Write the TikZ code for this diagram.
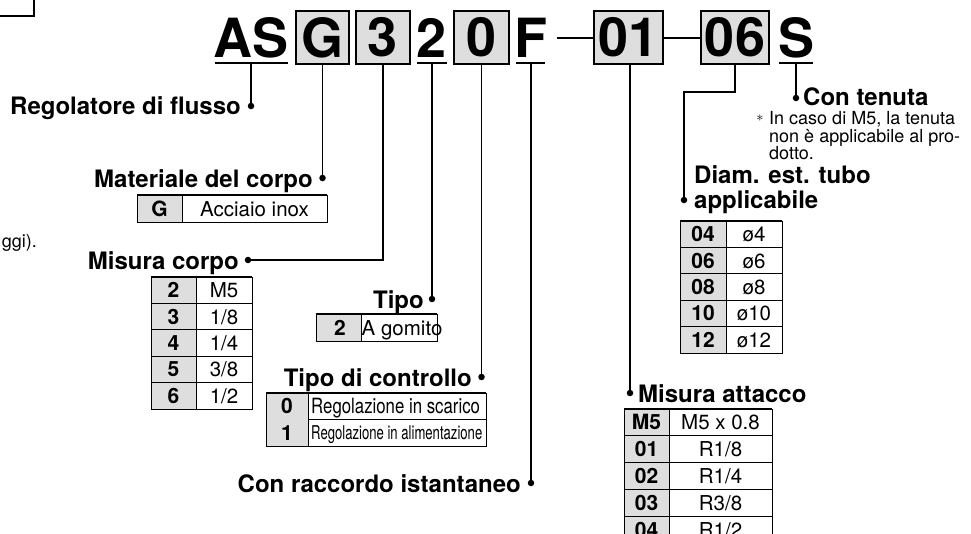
\documentclass[tikz,border=0pt]{standalone}
\usepackage{fontspec}
\setmainfont{TeX Gyre Heros}
\definecolor{codegray}{RGB}{222,222,222}
\tikzset{
  conn/.style={line width=1.6pt},
  dotmark/.style={fill, circle, inner sep=0pt, minimum size=6.5pt},
  lbl/.style={font=\bfseries\fontsize{24}{26}\selectfont, inner sep=0pt},
  big/.style={font=\bfseries\fontsize{54}{54}\selectfont, inner sep=0pt},
  cbox/.style={draw, fill=codegray, line width=1.5pt, minimum height=53pt, inner sep=0pt, font=\bfseries\fontsize{54}{54}\selectfont},
  tkey/.style={font=\bfseries\fontsize{21}{21}\selectfont, inner sep=0pt, anchor=base},
  tval/.style={font=\fontsize{20.5}{21}\selectfont, inner sep=0pt, anchor=base},
  note/.style={font=\fontsize{18}{18}\selectfont, inner sep=0pt, anchor=base west},
  tline/.style={line width=1pt},
  ttop/.style={line width=2pt},
  uline/.style={line width=1.6pt},
}
\begin{document}
\begin{tikzpicture}[x=1pt,y=-1pt]
\useasboundingbox (0,0) rectangle (971,533);
% partial frame top-left
\draw[line width=1.2pt] (-10,-10) rectangle (34,16);
\node[note, anchor=base east] (frag) at (37,247) {ggi).};

% ---- code ----
\node[big, anchor=base] (AS) at (251,57) {AS};
\node[cbox, minimum width=53pt] (G) at (322.5,37.5) {G};
\node[cbox, minimum width=54pt] (B3) at (383,37.5) {3};
\node[big, anchor=base] (T2) at (432,57) {2};
\node[cbox, minimum width=55pt] (C0) at (481.5,37.5) {0};
\node[big, anchor=base] (F) at (531,57) {F};
\node[cbox, minimum width=69pt] (P01) at (628.5,37.5) {01};
\node[cbox, minimum width=68pt] (D06) at (735,37.5) {06};
\node[big, anchor=base] (S) at (796,57) {S};

\draw[uline] (215,63) -- (288,63);
\draw[uline] (417,63) -- (447,63);
\draw[uline] (516,63) -- (545,63);
\draw[uline] (779,63) -- (813,63);
\coordinate (dashA) at (557,37.5);
\draw[line width=2pt] (dashA) -- (P01.west);
\draw[line width=2pt] (P01.east) -- (D06.west);

% ---- dots ----
\node[dotmark] (dAS) at (251,106) {};
\node[dotmark] (dG) at (322.5,178) {};
\node[dotmark] (dB3) at (248,260) {};
\node[dotmark] (dT2) at (432,299) {};
\node[dotmark] (dC0) at (481.5,377) {};
\node[dotmark] (dF) at (531,483) {};
\node[dotmark] (dP01) at (630,393) {};
\node[dotmark] (dD06) at (684,200) {};
\node[dotmark] (dS) at (796,98) {};

% ---- connectors ----
\draw[conn] (251,63) -- (dAS.center);
\draw[conn] (G.south) -- (dG.center);
\draw[conn] (B3.south) |- (dB3.center);
\draw[conn] (432,63) -- (dT2.center);
\draw[conn] (C0.south) -- (dC0.center);
\draw[conn] (531,63) -- (dF.center);
\draw[conn] (P01.south -| dP01) -- (dP01.center);
\draw[conn] (D06.south) -- (735,92) -| (dD06.center);
\draw[conn] (796,63) -- (dS.center);

% ---- labels ----
\node[lbl, anchor=base east] (lAS) at (241,114) {Regolatore di flusso};
\node[lbl, anchor=base east] (lG) at (313,187) {Materiale del corpo};
\node[lbl, anchor=base east] (lB3) at (239,269) {Misura corpo};
\node[lbl, anchor=base east] (lT2) at (424,308) {Tipo};
\node[lbl, anchor=base east] (lC0) at (472,386) {Tipo di controllo};
\node[lbl, anchor=base east] (lF) at (521,492) {Con raccordo istantaneo};
\node[lbl, anchor=base west] (lP01) at (638,402) {Misura attacco};
\node[lbl, anchor=base west] (lD06a) at (694,183) {Diam. est. tubo};
\node[lbl, anchor=base west] (lD06b) at (694,208) {applicabile};
\node[lbl, anchor=base west] (lS) at (803,105) {Con tenuta};

% note
\node[inner sep=0pt, font=\fontsize{14}{14}\selectfont] (ast) at (760,118) {$\ast$};
\node[note] (n1) at (769,124.5) {In caso di M5, la tenuta};
\node[note] (n2) at (769,142) {non è applicabile al pro-};
\node[note] (n3) at (769,159.5) {dotto.};

% ---- table: Materiale ----
\fill[codegray] (137,195) rectangle (182,222);
\draw[tline] (137,195) rectangle (327,222);
\draw[tline] (182,195) -- (182,222);
\draw[ttop] (137,195) -- (327,195);
\node[tkey] (mG) at (159.5,216) {G};
\node[tval] (mGv) at (254.5,216) {Acciaio inox};

% ---- table: Misura corpo ----
\fill[codegray] (151,277) rectangle (196,409);
\draw[tline] (151,277) rectangle (252,409);
\draw[tline] (196,277) -- (196,409);
\foreach \i in {1,...,4} \draw[tline] (151,{277+\i*26.4}) -- (252,{277+\i*26.4});
\draw[ttop] (151,277) -- (252,277);
\foreach \k/\v [count=\i from 0] in {2/M5,3/{1/8},4/{1/4},5/{3/8},6/{1/2}} {
  \node[tkey] (mc\i k) at (173.5,{277+(\i+0.5)*26.4+7.4}) {\k};
  \node[tval] (mc\i v) at (224,{277+(\i+0.5)*26.4+7.4}) {\v};
}

% ---- table: Tipo ----
\fill[codegray] (316,314) rectangle (361,341);
\draw[tline] (316,314) rectangle (437,341);
\draw[tline] (361,314) -- (361,341);
\draw[ttop] (316,314) -- (437,314);
\node[tkey, anchor=base east] (tk) at (346,335) {2};
\node[tval, anchor=base west] (tv) at (361.5,335) {A gomito};

% ---- table: Tipo di controllo ----
\fill[codegray] (266,393) rectangle (308,446);
\draw[tline] (266,393) rectangle (486,446);
\draw[tline] (308,393) -- (308,446);
\draw[tline] (308,419.5) -- (486,419.5);
\draw[ttop] (266,393) -- (486,393);
\node[tkey] (ck0) at (287,413.5) {0};
\node[tkey] (ck1) at (287,440) {1};
\node[tval, anchor=base west, font=\fontsize{21}{21}\selectfont] (cv0) at (311,413.5) {\scalebox{0.8}[1]{Regolazione in scarico}};
\node[tval, anchor=base west, font=\fontsize{19}{19}\selectfont] (cv1) at (311,439.5) {\scalebox{0.69}[1]{Regolazione in alimentazione}};

% ---- table: Diam ----
\fill[codegray] (680,221) rectangle (726,353);
\draw[tline] (680,221) rectangle (782,353);
\draw[tline] (726,221) -- (726,353);
\foreach \i in {1,...,4} \draw[tline] (680,{221+\i*26.4}) -- (782,{221+\i*26.4});
\draw[ttop] (680,221) -- (782,221);
\foreach \k/\v [count=\i from 0] in {04/ø4,06/ø6,08/ø8,10/ø10,12/ø12} {
  \node[tkey] (dt\i k) at (703,{221+(\i+0.5)*26.4+7.4}) {\k};
  \node[tval] (dt\i v) at (754,{221+(\i+0.5)*26.4+7.4}) {\v};
}

% ---- table: Misura attacco ----
\fill[codegray] (624,409) rectangle (669,545);
\draw[tline] (624,545) -- (624,409) -- (772,409) -- (772,545);
\draw[tline] (669,409) -- (669,545);
\foreach \i in {1,...,4} \draw[tline] (624,{409+\i*26.8}) -- (772,{409+\i*26.8});
\draw[ttop] (624,409) -- (772,409);
\foreach \k/\v [count=\i from 0] in {M5/M5 x 0.8,01/R1{/}8,02/R1{/}4,03/R3{/}8,04/R1{/}2} {
  \node[tkey] (ma\i k) at (646.5,{409+(\i+0.5)*26.8+7.4}) {\k};
  \node[tval] (ma\i v) at (720.5,{409+(\i+0.5)*26.8+7.4}) {\v};
}
\end{tikzpicture}
\end{document}
